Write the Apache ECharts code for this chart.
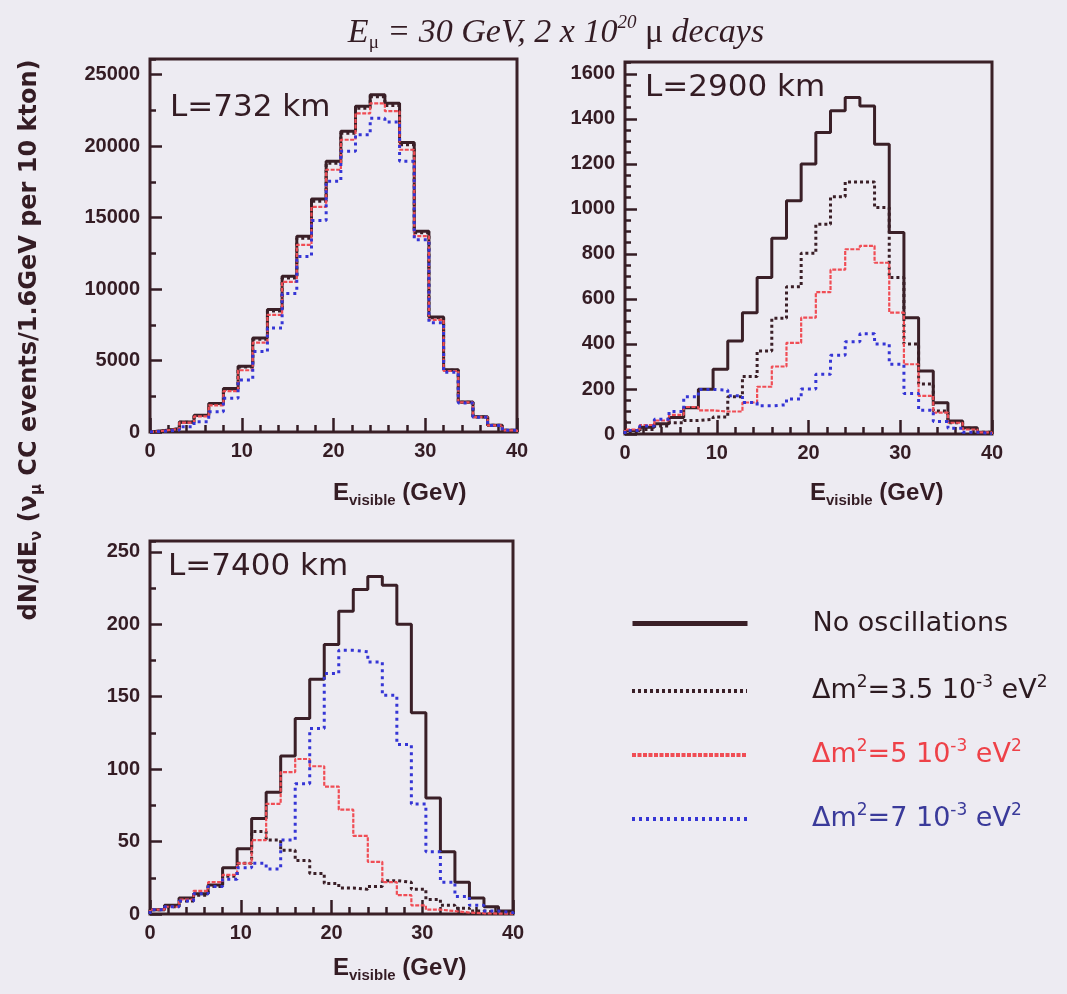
<!DOCTYPE html>
<html><head><meta charset="utf-8">
<script src="https://cdn.jsdelivr.net/npm/echarts@6/dist/echarts.min.js"></script>
<style>html,body{margin:0;padding:0;background:#edebf2}#c{width:1067px;height:994px}</style>
</head><body><div id="c"></div>
<script>
// ---- data ----
const binEdges = [0,1.6,3.2,4.8,6.4,8,9.6,11.2,12.8,14.4,16,17.6,19.2,20.8,22.4,24,25.6,27.2,28.8,30.4,32,33.6,35.2,36.8,38.4,40];
const xTicks = [0,10,20,30,40];
const seriesKeys = ['noosc','dm35','dm5','dm7'];
const panelLabels = ['L=732 km','L=2900 km','L=7400 km'];

const l732_noosc = [100,230,700,1170,2000,3050,4600,6570,8570,10900,13700,16300,18950,21050,22800,23600,23000,20250,14050,8050,4350,2100,1060,470,120];
const l732_dm35  = [98,225,690,1150,1970,3010,4540,6490,8470,10780,13560,16150,18800,20900,22650,23450,22850,20100,13950,7990,4320,2090,1055,468,119];
const l732_dm5   = [95,215,660,1090,1870,2860,4320,6250,8200,10500,13100,15750,18350,20450,22300,23000,22450,19750,13700,7850,4270,2070,1045,462,117];
const l732_dm7   = [60,140,370,720,1420,2360,3640,5630,7270,9700,12280,14800,17550,19650,20800,21950,21700,18950,13450,7650,4180,2030,1025,455,115];

const l2900_noosc = [15,30,45,73,117,199,288,413,539,695,870,1036,1200,1340,1436,1495,1458,1287,895,517,280,139,58,28,8];
const l2900_dm35  = [10,20,35,50,60,65,75,165,255,369,514,654,803,932,1054,1120,1120,1006,695,400,222,102,50,25,8];
const l2900_dm5   = [20,40,60,85,120,105,100,100,140,210,300,405,517,630,730,821,836,761,539,310,169,95,50,20,7];
const l2900_dm7   = [15,35,65,100,165,198,195,170,140,125,130,155,200,265,350,410,445,400,310,180,105,55,25,8,2];

const l7400_noosc = [3,6,11,14,20,32,45,66,84,109,135,162,186,209,224,233,227,200,139,80,43,22,11,5,2];
const l7400_dm35  = [3,5,9,13,19,26,35,57,51,44,37,28,21,18,17,19,23,22,17,10,6,4,2,1,0.5];
const l7400_dm5   = [3,5,10,16,22,27,35,51,76,98,107,102,88,72,54,36,22,13,6,3,2,1,0.5,0.3,0.2];
const l7400_dm7   = [3,5,9,14,19,24,32,35,31,51,90,128,166,182,181,174,151,117,76,43,22,12,6,2,1];

const panels = [
  {noosc:l732_noosc, dm35:l732_dm35, dm5:l732_dm5, dm7:l732_dm7},
  {noosc:l2900_noosc, dm35:l2900_dm35, dm5:l2900_dm5, dm7:l2900_dm7},
  {noosc:l7400_noosc, dm35:l7400_dm35, dm5:l7400_dm5, dm7:l7400_dm7}
];

// ---- styling ----
const INK = '#341c24';
const styles = {
  noosc:{color:'#3a1f27', width:3, type:'solid'},
  dm35:{color:'#3a1f27', width:3, type:[3,3]},
  dm5:{color:'#f04d55', width:2.2, type:[4,1.5]},
  dm7:{color:'#3535d5', width:3, type:[3,4]}
};
const legendText = {
  noosc:{color:'#2c1a20'}, dm35:{color:'#2c1a20'}, dm5:{color:'#ee4148'}, dm7:{color:'#3a3a9a'}
};
const legendLabel = {
  noosc:'{g| }{a|No oscillations}',
  dm35:'{g| }{a|Δm}{s|2}{a|=3.5 10}{s|-3}{a| eV}{s|2}',
  dm5:'{g| }{a|Δm}{s|2}{a|=5 10}{s|-3}{a| eV}{s|2}',
  dm7:'{g| }{a|Δm}{s|2}{a|=7 10}{s|-3}{a| eV}{s|2}'
};

const grids = [
  {left:150, top:59, width:367, height:373},
  {left:625, top:62, width:367, height:372},
  {left:150, top:541, width:363, height:373}
];
const yMax = [26100, 1653, 257.5];
const yMajor = [5000, 200, 50];
const yMinor = [2500, 50, 25];

function steps(vals){
  const pts = [[binEdges[0], 0]];
  for (let i = 0; i < vals.length; i++) pts.push([binEdges[i], vals[i]]);
  pts.push([binEdges[vals.length], vals[vals.length-1]]);
  pts.push([binEdges[vals.length], 0]);
  return pts;
}

const labelFont = {color:INK, fontFamily:'Liberation Sans', fontWeight:'bold', fontSize:20, formatter:v=>String(v)};

const xAxis = grids.map((g,i)=>({
  type:'value', gridIndex:i, min:0, max:40, interval:10,
  axisLine:{show:false}, splitLine:{show:false},
  axisTick:{show:true, inside:true, length:14, lineStyle:{color:INK, width:2.5}},
  minorTick:{show:true, splitNumber:5, length:7, lineStyle:{color:INK, width:2.5}},
  axisLabel:Object.assign({margin:9}, labelFont)
}));
const yAxis = [];
grids.forEach((g,i)=>{
  yAxis.push({type:'value', gridIndex:i, position:'left', min:0, max:yMax[i], interval:yMajor[i],
    axisLine:{show:false}, splitLine:{show:false},
    axisTick:{show:true, inside:true, length:12, lineStyle:{color:INK, width:2.5}},
    axisLabel:Object.assign({margin:10, showMaxLabel:false}, labelFont)});
  yAxis.push({type:'value', gridIndex:i, position:'left', min:0, max:yMax[i], interval:yMinor[i],
    axisLine:{show:false}, splitLine:{show:false},
    axisTick:{show:true, inside:true, length:6, lineStyle:{color:INK, width:2.5}},
    axisLabel:{show:false}});
});

const series = [];
panels.forEach((p,i)=>{
  seriesKeys.forEach((k,j)=>{
    series.push({
      name:k, type:'line', step:'end', symbol:'none', showSymbol:false,
      xAxisIndex:i, yAxisIndex:2*i, data:steps(p[k]), clip:true,
      itemStyle:{color:styles[k].color},
      lineStyle:Object.assign({cap:'butt'}, styles[k]), z:2+j, silent:true, animation:false
    });
  });
});

const legendCenters = [627, 691, 755, 819];
const legend = seriesKeys.map((k,j)=>({
  data:[k], orient:'vertical', left:630, top:legendCenters[j]-17, padding:0,
  itemWidth:115, itemHeight:12, selectedMode:false,
  itemStyle:{opacity:0},
  lineStyle:{width: j===0 ? 5 : 4},
  formatter:()=>legendLabel[k],
  textStyle:{rich:{
    g:{width:60},
    a:{fontFamily:'DejaVu Sans', fontSize:27, lineHeight:34, color:legendText[k].color},
    s:{fontFamily:'DejaVu Sans', fontSize:17, lineHeight:17, verticalAlign:'top', color:legendText[k].color}
  }}
}));

const xTitleRich = {
  a:{fontFamily:'Liberation Sans', fontWeight:'bold', fontSize:24, lineHeight:30, fill:INK, color:INK},
  s:{fontFamily:'Liberation Sans', fontWeight:'bold', fontSize:15, lineHeight:15, verticalAlign:'bottom', fill:INK, color:INK}
};
function xTitle(x,y){
  return {type:'text', left:x, top:y, style:{text:'{a|E}{s|visible}{a| (GeV)}', rich:xTitleRich, fill:INK}};
}

const graphic = [
  {type:'text', x:556, y:33, style:{
    text:'{i|E}{sub|μ}{i| = 30 GeV, 2 x 10}{sup|20}{u| μ}{i| decays}',
    align:'center', verticalAlign:'middle', fill:INK,
    rich:{
      i:{fontFamily:'Liberation Serif', fontStyle:'italic', fontSize:34, lineHeight:40, fill:INK, color:INK},
      u:{fontFamily:'Liberation Serif', fontSize:34, lineHeight:40, fill:INK, color:INK},
      sub:{fontFamily:'Liberation Serif', fontSize:19, lineHeight:19, verticalAlign:'bottom', fill:INK, color:INK},
      sup:{fontFamily:'Liberation Serif', fontStyle:'italic', fontSize:19, lineHeight:19, verticalAlign:'top', fill:INK, color:INK}
    }}},
  {type:'text', x:30, y:340, rotation:Math.PI/2, style:{
    text:'{a|dN/dE}{s|ν}{a| (ν}{s|μ}{a| CC events/1.6GeV per 10 kton)}',
    align:'center', verticalAlign:'middle', fill:INK,
    rich:{
      a:{fontFamily:'DejaVu Sans', fontWeight:'bold', fontSize:24, lineHeight:30, fill:INK, color:INK},
      s:{fontFamily:'DejaVu Sans', fontWeight:'bold', fontSize:15, lineHeight:15, verticalAlign:'bottom', fill:INK, color:INK}
    }}},
  {type:'text', x:170, y:108, style:{text:panelLabels[0], font:'31px "DejaVu Sans"', fill:INK, verticalAlign:'middle'}},
  {type:'text', x:645, y:88, style:{text:panelLabels[1], font:'31px "DejaVu Sans"', fill:INK, verticalAlign:'middle'}},
  {type:'text', x:168, y:567, style:{text:panelLabels[2], font:'31px "DejaVu Sans"', fill:INK, verticalAlign:'middle'}},
  xTitle(333, 481), xTitle(810, 481), xTitle(333, 956)
];

const chart = echarts.init(document.getElementById('c'), null, {renderer:'canvas'});
chart.setOption({
  backgroundColor:'#edebf2',
  animation:false,
  grid: grids.map(g=>Object.assign({show:true, borderColor:'#3a2027', borderWidth:3, backgroundColor:'transparent', containLabel:false, outerBoundsMode:'none'}, g)),
  xAxis, yAxis, series, legend, graphic
});
</script></body></html>
